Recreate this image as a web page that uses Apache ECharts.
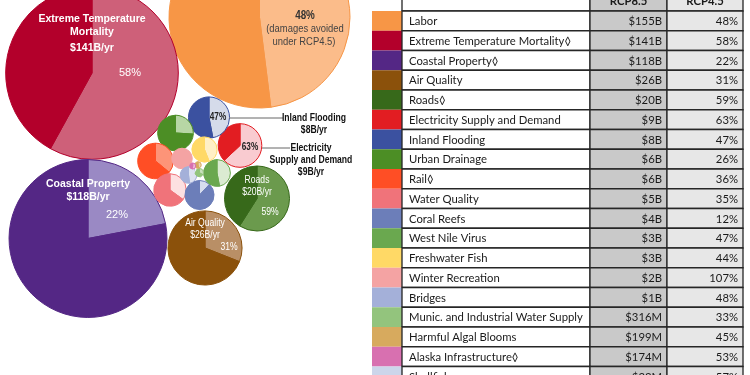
<!DOCTYPE html>
<html><head><meta charset="utf-8">
<script src="https://cdn.jsdelivr.net/npm/echarts@6/dist/echarts.min.js"></script>
<style>html,body{margin:0;padding:0;background:#fff}#c{width:750px;height:375px}</style>
</head><body><div id="c"></div>
<script>
// ---- DATA ----
const sectors = ['Labor','Extreme Temperature Mortality◊','Coastal Property◊','Air Quality','Roads◊','Electricity Supply and Demand','Inland Flooding','Urban Drainage','Rail◊','Water Quality','Coral Reefs','West Nile Virus','Freshwater Fish','Winter Recreation','Bridges','Munic. and Industrial Water Supply','Harmful Algal Blooms','Alaska Infrastructure◊','Shellfish'];
const rcp85Damages = [155,141,118,26,20,9,8,6,6,5,4,3.4,3,2,1.3,0.316,0.199,0.174,0.023]; // $B per year
const rcp45AvoidedPct = [48,58,22,31,59,63,47,26,36,35,12,47,44,107,48,33,45,53,57];
const tableHeaders = ['RCP8.5','RCP4.5'];
const darkColors = ['#f79646','#b3002b','#542785','#8b510b','#37691a','#e21d22','#3b51a0','#4c8e25','#ff4e25','#f0737a','#6c7eb9','#6aa84f','#ffd966','#f4a3a3','#a4b0d9','#93c47d','#d7aa5e','#d870b0','#ccd5ea'];
const lightColors = ['#fbbc8a','#ce6079','#9a89c4','#b98f66','#6b9a4d','#f9cbd0','#d5dbea','#b7d6a5','#fd9478','#fde0e1','#d7ddee','#dbebd2','#fff0c6','#f4a3a3','#dde2f1','#c9e1bd','#ecd5ae','#ecb8d8','#e6eaf5'];

// ---- LAYOUT (positions, not data) ----
const bubbleCenters = [[259.5,17.5],[92,73],[88,238.5],[205,248],[257,198.5],[240,145.5],[209,117.5],[175.5,133],[155.5,161],[170,190],[199.5,195],[217,173],[204.5,149.5],[182,158.5],[188.5,175],[199.3,172.7],[198,165],[192.7,166],[195,170.5]];
const maxRadius = 90.5;
const colW = [30,188,77,76];

function fmtMoney(v){ return v >= 1 ? '$' + Math.round(v) + 'B' : '$' + Math.round(v*1000) + 'M'; }
function plainName(i){ return sectors[i].replace('◊',''); }

const pies = sectors.map((s,i)=>{
  const r = maxRadius*Math.sqrt(rcp85Damages[i]/rcp85Damages[0]);
  const p = rcp45AvoidedPct[i] > 100 ? 0 : rcp45AvoidedPct[i];
  return {
    type:'pie', silent:true, animation:false, center:bubbleCenters[i], radius:[0, Math.max(r,1)],
    startAngle:90, clockwise:true, label:{show:false}, labelLine:{show:false}, emphasis:{disabled:true},
    z: 2,
    itemStyle:{borderColor:darkColors[i], borderWidth: r>3?1:0},
    data:[{value:p, itemStyle:{color:lightColors[i]}},{value:100-p, itemStyle:{color:darkColors[i]}}]
  };
});

const W = '#ffffff';
const SANS = '"Liberation Sans", Arial, sans-serif';
const boldSans = 'bold 10.5px ' + SANS;
const regSans = '11px ' + SANS;
function T(text,x,y,font,fill,narrow){
  return {type:'text', z:10, silent:true, x, y, scaleX: narrow?0.82:1,
    style:{text, x:0, y:0, font, fill, textAlign:'center', textVerticalAlign:'middle'}};
}
function pct(i){ return rcp45AvoidedPct[i] + '%'; }
function yr(i){ return fmtMoney(rcp85Damages[i]) + '/yr'; }

const labels = [
  T(pct(0),305,15.7,'bold 12px '+SANS,'#333',true),
  T('(damages avoided',305,28.5,'11.5px '+SANS,'#444',true),
  T('under RCP4.5)',304,42,'11.5px '+SANS,'#444',true),
  T('Extreme Temperature',92,19,boldSans,W),
  T('Mortality',92,32,boldSans,W),
  T(yr(1),92,48,boldSans,W),
  T(pct(1),130,73,regSans,W),
  T(plainName(2),88,184,boldSans,W),
  T(yr(2),88,197,boldSans,W),
  T(pct(2),117,215,regSans,W),
  T(plainName(3),205,223,'10.5px '+SANS,W,true),
  T(yr(3),205,235,'10.5px '+SANS,W,true),
  T(pct(3),229,247,'10.5px '+SANS,W,true),
  T(plainName(4),257,180,'10.5px '+SANS,W,true),
  T(yr(4),257,192,'10.5px '+SANS,W,true),
  T(pct(4),270,212,'10.5px '+SANS,W,true),
  T(pct(6),218,117.5,'bold 10px '+SANS,'#222',true),
  {type:'line', z:10, silent:true, shape:{x1:229,y1:118,x2:283,y2:118}, style:{stroke:'#666',lineWidth:1}},
  T(plainName(6),314,118,'bold 10.5px '+SANS,'#111',true),
  T(yr(6),314,130,'bold 10.5px '+SANS,'#111',true),
  T(pct(5),250,147,'bold 10px '+SANS,'#222',true),
  {type:'line', z:10, silent:true, shape:{x1:262,y1:148,x2:290,y2:148}, style:{stroke:'#666',lineWidth:1}},
  T('Electricity',311,148,'bold 10.5px '+SANS,'#111',true),
  T('Supply and Demand',311,160,'bold 10.5px '+SANS,'#111',true),
  T(yr(5),311,172,'bold 10.5px '+SANS,'#111',true)
];

const tableFont = '11.3px Lato, "Open Sans", sans-serif';
const cellFills = ['#ffffff','#c9c9c9','#e7e7e7'];
function cellRow(x0, top, h, fills, texts, swatch, bold){
  const kids = [];
  let x = x0;
  kids.push({type:'rect', shape:{x, y:top, width:colW[0], height:h}, style:{fill:swatch||'#fff'}});
  x += colW[0];
  for (let k=0;k<3;k++){
    kids.push({type:'rect', shape:{x, y:top, width:colW[k+1], height:h}, style:{fill:fills[k], stroke:'#262626', lineWidth:1.3}});
    const t = texts[k];
    if (t){
      let tx, align;
      if (bold){ tx = x + colW[k+1]/2; align='center'; }
      else if (k===0){ tx = x + 7; align='left'; }
      else { tx = x + colW[k+1] - 5; align='right'; }
      kids.push({type:'text', style:{text:t, x:tx, y:top+h/2+0.5, textAlign:align, textVerticalAlign:'middle', font:(bold?'bold ':'')+tableFont, fill:'#1a1a1a'}});
    }
    x += colW[k+1];
  }
  return kids;
}

const tableSeries = {
  type:'custom', coordinateSystem:'cartesian2d', xAxisIndex:0, yAxisIndex:0, silent:true, animation:false, clip:false, z:5,
  encode:{x:0, y:1},
  data: sectors.map((s,i)=>[0,i]),
  renderItem:function(params, api){
    const i = api.value(1);
    const c = api.coord([0,i]);
    const h = api.size([0,1])[1];
    const x0 = params.coordSys.x;
    const top = c[1]-h/2;
    let kids = cellRow(x0, top, h, cellFills, [sectors[i], fmtMoney(rcp85Damages[i]), pct(i)], darkColors[i], false);
    if (i===0){
      kids = cellRow(x0, top-h, h, ['#ffffff','#c9c9c9','#e7e7e7'], ['', tableHeaders[0], tableHeaders[1]], '#ffffff', true).concat(kids);
    }
    return {type:'group', children:kids};
  }
};

const chart = echarts.init(document.getElementById('c'), null, {renderer:'canvas'});
chart.setOption({
  animation:false,
  backgroundColor:'#ffffff',
  grid:{left:372, width:371, top:11, height:19.75*sectors.length, containLabel:false, outerBoundsMode:'none'},
  xAxis:{type:'value', min:0, max:1, show:false},
  yAxis:{type:'category', data:sectors, inverse:true, show:false},
  graphic:{elements:labels},
  series:[...pies, tableSeries]
});
</script>
</body></html>
